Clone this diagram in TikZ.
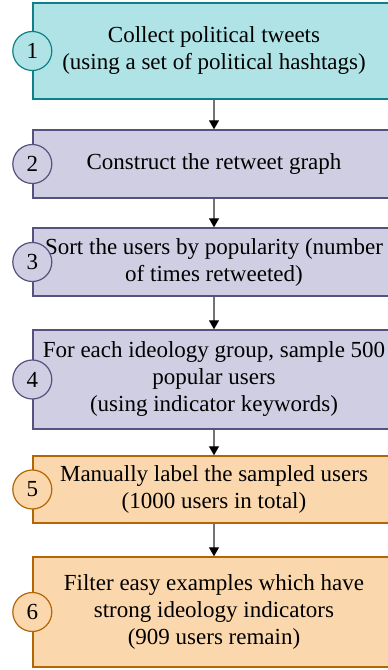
\documentclass[tikz,border=0pt]{standalone}
\usepackage{fontspec}
\setmainfont{Liberation Serif}
\usetikzlibrary{arrows.meta}
\definecolor{tealfill}{HTML}{B0E3E6}
\definecolor{tealline}{HTML}{0E8088}
\definecolor{purpfill}{HTML}{D0CEE2}
\definecolor{purpline}{HTML}{56517E}
\definecolor{orfill}{HTML}{FAD7AC}
\definecolor{orline}{HTML}{B46504}
\tikzset{
  stepbox/.style={draw, line width=1.4pt, minimum width=362pt, inner sep=0pt,
    font=\fontsize{23}{27}\selectfont, align=center, text=black},
  numcircle/.style={circle, draw, line width=1.2pt, minimum size=39pt, inner sep=0pt,
    font=\fontsize{23}{27}\selectfont, text=black},
  teal/.style={fill=tealfill, draw=tealline},
  purp/.style={fill=purpfill, draw=purpline},
  oran/.style={fill=orfill, draw=orline},
  flow/.style={draw=black!55, line width=1.2pt, -{Triangle[width=10pt,length=9pt,black]}}
}
\begin{document}
\begin{tikzpicture}[x=1pt, y=1pt]
  \useasboundingbox (0,0) rectangle (388,670);
  \clip (0,0) rectangle (388,670);
  % process steps
  \node[stepbox, teal, minimum height=96pt] (b1) at (214,619)
    {Collect political tweets\\(using a set of political hashtags)};
  \node[stepbox, purp, minimum height=68pt] (b2) at (214,506)
    {Construct the retweet graph};
  \node[stepbox, purp, minimum height=68pt] (b3) at (214,408)
    {Sort the users by popularity (number\\of times retweeted)};
  \node[stepbox, purp, minimum height=99pt] (b4) at (214,290.5)
    {For each ideology group, sample 500\\popular users\\(using indicator keywords)};
  \node[stepbox, oran, minimum height=67pt] (b5) at (214,180.5)
    {Manually label the sampled users\\(1000 users in total)};
  \node[stepbox, oran, minimum height=110pt] (b6) at (214,58)
    {Filter easy examples which have\\strong ideology indicators\\(909 users remain)};
  % step numbers
  \node[numcircle, teal] (n1) at (b1.west) {1};
  \node[numcircle, purp] (n2) at (b2.west) {2};
  \node[numcircle, purp] (n3) at (b3.west) {3};
  \node[numcircle, purp] (n4) at (b4.west) {4};
  \node[numcircle, oran] (n5) at (b5.west) {5};
  \node[numcircle, oran] (n6) at (b6.west) {6};
  % connectors
  \draw[flow] (b1.south) -- (b2.north);
  \draw[flow] (b2.south) -- (b3.north);
  \draw[flow] (b3.south) -- (b4.north);
  \draw[flow] (b4.south) -- (b5.north);
  \draw[flow] (b5.south) -- (b6.north);
\end{tikzpicture}
\end{document}
